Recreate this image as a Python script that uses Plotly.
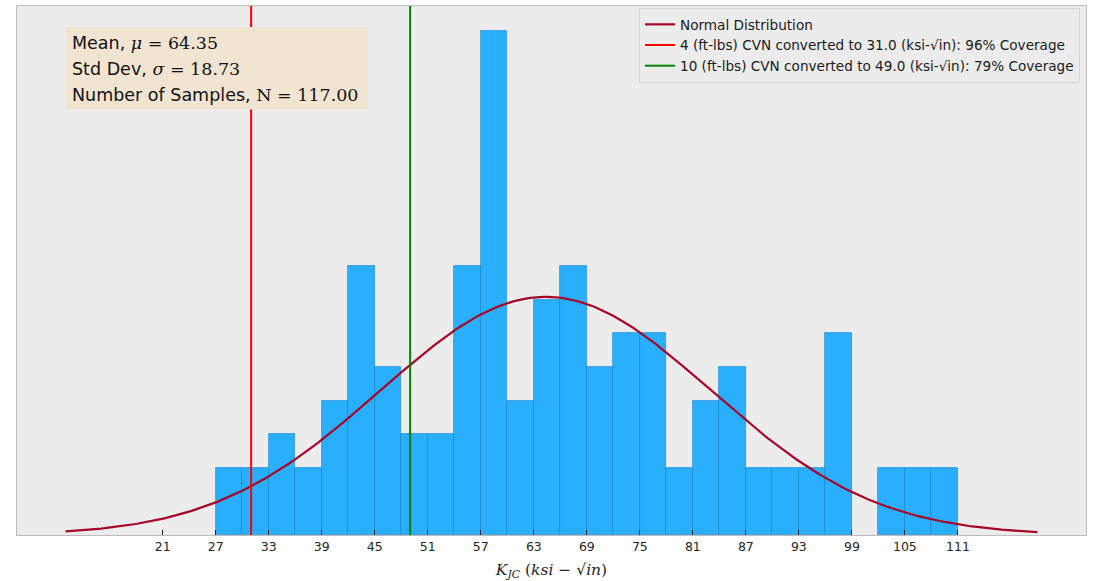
import numpy as np
import plotly.graph_objects as go

# ---- data ----
BIN_LEFT = [27, 30, 33, 36, 39, 42, 45, 48, 51, 54, 57, 60, 63, 66, 69, 72, 75, 78,
            81, 84, 87, 90, 93, 96, 99, 102, 105, 108]
BAR_HEIGHT = [2, 2, 3, 2, 4, 8, 5, 3, 3, 8, 15, 4, 7, 8, 5, 6, 6, 2,
              4, 5, 2, 2, 2, 6, 0, 2, 2, 2]
BIN_WIDTH = 3
TICK_VALS = [21, 27, 33, 39, 45, 51, 57, 63, 69, 75, 81, 87, 93, 99, 105, 111]
MEAN = 64.35
STD = 18.73
N_SAMPLES = 117.00
CURVE_X_START = 10
CURVE_X_END = 120
CURVE_PEAK = 7.09          # peak height of fitted curve in bar-height units
CVN4_LINE = 31.0
CVN10_LINE = 49.0
CVN4_COV = 96
CVN10_COV = 79

# ---- layout constants ----
W, H = 1094, 581
ML, MR, MT, MB = 17, 8, 5, 45
PW, PH = W - ML - MR, H - MT - MB
Y_MAX = max(BAR_HEIGHT) * 1.05
X_RANGE = [4.5, 125.5]


def px_x(px):
    return (px - ML) / PW


def px_y(py):
    return (H - MB - py) / PH


fig = go.Figure()

centers = [b + BIN_WIDTH / 2 for b in BIN_LEFT]
edge_w = [0.8 if h > 0 else 0 for h in BAR_HEIGHT]
fig.add_trace(go.Bar(
    x=centers, y=BAR_HEIGHT, width=BIN_WIDTH,
    marker=dict(color="#2AAFFF", line=dict(color="rgba(20,130,195,0.75)", width=edge_w)),
    showlegend=False, hoverinfo="skip"))

xc = np.linspace(CURVE_X_START, CURVE_X_END, 300)
yc = CURVE_PEAK * np.exp(-0.5 * ((xc - MEAN) / STD) ** 2)
fig.add_trace(go.Scatter(x=xc, y=yc, mode="lines",
                         line=dict(color="#A60628", width=2.2),
                         name="Normal Distribution"))

fig.add_trace(go.Scatter(
    x=[CVN4_LINE, CVN4_LINE], y=[0, Y_MAX], mode="lines",
    line=dict(color="#FF0000", width=2),
    name=f"4 (ft-lbs) CVN converted to {CVN4_LINE:.1f} (ksi-√in): {CVN4_COV}% Coverage"))
fig.add_trace(go.Scatter(
    x=[CVN10_LINE, CVN10_LINE], y=[0, Y_MAX], mode="lines",
    line=dict(color="#008000", width=2),
    name=f"10 (ft-lbs) CVN converted to {CVN10_LINE:.1f} (ksi-√in): {CVN10_COV}% Coverage"))

# stats text box
fig.add_shape(type="rect", xref="paper", yref="paper",
              x0=px_x(66), x1=px_x(368), y0=px_y(109), y1=px_y(26),
              fillcolor="#F1E5D1", line=dict(width=0), layer="above")
serif = "font-family:'DejaVu Serif'"
lines = [
    f"Mean, <span style=\"{serif}\"><i>μ</i> = {MEAN:.2f}</span>",
    f"Std Dev, <span style=\"{serif}\"><i>σ</i> = {STD:.2f}</span>",
    f"Number of Samples, <span style=\"{serif}\">N = {N_SAMPLES:.2f}</span>",
]
for i, t in enumerate(lines):
    fig.add_annotation(xref="paper", yref="paper", x=px_x(70), y=px_y(42 + 26 * i),
                       xanchor="left", yanchor="middle", showarrow=False, text=t,
                       font=dict(family="DejaVu Sans", size=17.5, color="#111111"))

fig.update_layout(
    width=W, height=H,
    margin=dict(l=ML, r=MR, t=MT, b=MB),
    paper_bgcolor="white", plot_bgcolor="#ECECEC",
    bargap=0,
    font=dict(family="DejaVu Sans", color="#262626"),
    legend=dict(x=px_x(1080), y=px_y(7), xanchor="right", yanchor="top",
                bgcolor="#ECECEC", bordercolor="#D4D4D4", borderwidth=1,
                font=dict(family="DejaVu Sans", size=13.6, color="#1a1a1a"),
                tracegroupgap=0, itemwidth=30),
    xaxis=dict(range=X_RANGE, tickvals=TICK_VALS, ticktext=[str(v) for v in TICK_VALS],
               ticks="inside", ticklen=5, tickcolor="#222", tickwidth=1,
               showgrid=False, zeroline=False,
               showline=True, mirror=True, linecolor="#BCBCBC", linewidth=1,
               tickfont=dict(family="DejaVu Sans", size=12.5, color="#262626"),
               title=dict(text="<i>K</i><sub><i>JC</i></sub> (<i>ksi</i> − √<i>in</i>)",
                          font=dict(family="DejaVu Serif", size=15.5, color="#262626"),
                          standoff=11)),
    yaxis=dict(range=[0, Y_MAX], showticklabels=False, ticks="", showgrid=False,
               zeroline=False, showline=True, mirror=True, linecolor="#BCBCBC",
               linewidth=1),
)

fig.write_html("out.html")
